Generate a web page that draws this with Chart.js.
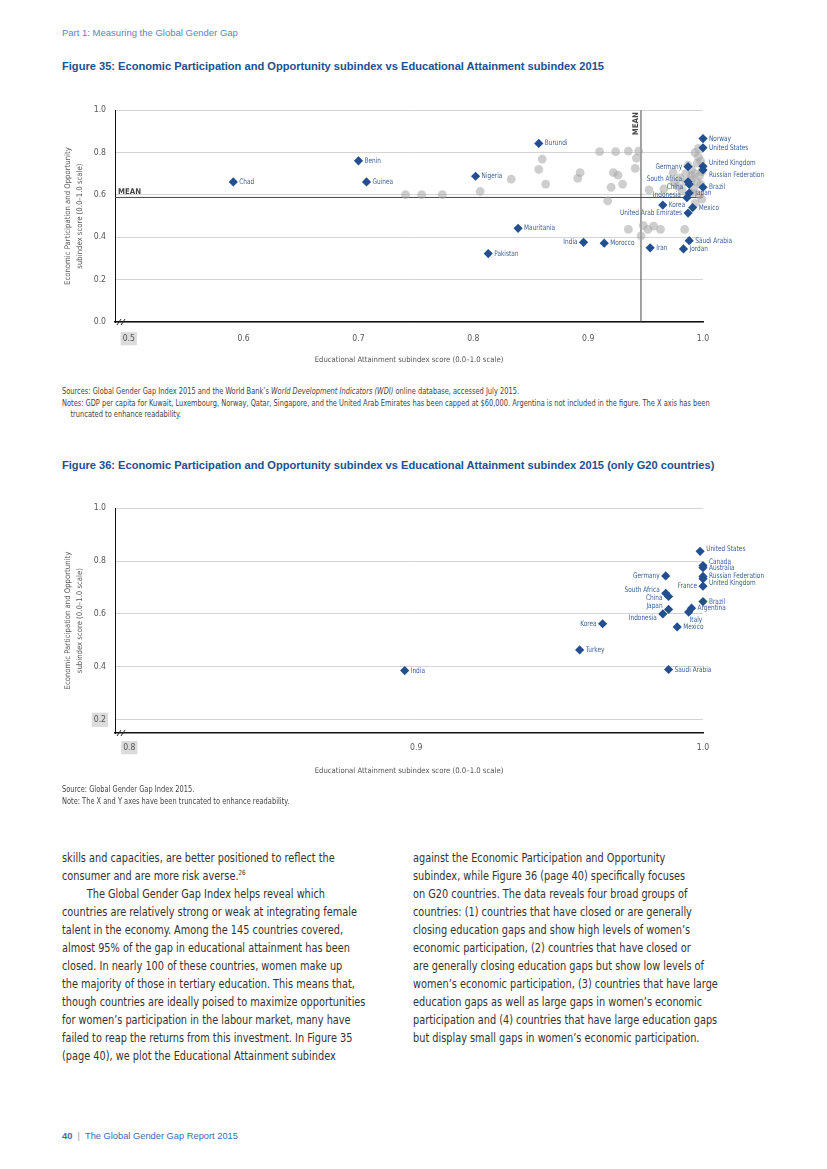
<!DOCTYPE html>
<html>
<head>
<meta charset="utf-8">
<script src="https://cdn.jsdelivr.net/npm/chart.js@4.4.1/dist/chart.umd.min.js"></script>
<style>
  body { margin: 0; background: #fff; }
  .page { position: relative; width: 827px; height: 1169px; overflow: hidden; }
  .abs { position: absolute; white-space: nowrap; }
  .narrow { font-family: "Liberation Sans Narrow", "DejaVu Sans Condensed", "Liberation Sans", sans-serif; }
  .runhead { left: 62px; top: 27px; font: 9.5px "Liberation Sans", sans-serif; color: #5a86bd; }
  .figtitle { left: 62px; font: bold 11.1px "Liberation Sans", sans-serif; color: #21508f; }
  .note { left: 62px; font-size: 8px; color: #444; line-height: 11.5px; transform: scaleX(0.925); transform-origin: 0 0; }
  .body { font-size: 12.4px; color: #333; line-height: 18px; transform: scaleX(0.875); transform-origin: 0 0; }
  .body sup { font-size: 7px; line-height: 0; }
  .foot { left: 62px; top: 1131px; font: 9.3px "Liberation Sans", sans-serif; color: #3d6bb0; }
  canvas { position: absolute; }
</style>
</head>
<body>
<div class="page">
  <div class="abs runhead">Part 1: Measuring the Global Gender Gap</div>
  <div class="abs figtitle" style="top:60px">Figure 35: Economic Participation and Opportunity subindex vs Educational Attainment subindex 2015</div>
  <canvas id="chart35" width="720" height="276" style="left:55px; top:96px"></canvas>
  <div class="abs note narrow" style="top:386px">
    Sources: Global Gender Gap Index 2015 and the World Bank’s <i>World Development Indicators (WDI)</i> online database, accessed July 2015.<br>
    Notes: GDP per capita for Kuwait, Luxembourg, Norway, Qatar, Singapore, and the United Arab Emirates has been capped at $60,000. Argentina is not included in the figure. The X axis has been<br>
    &nbsp;&nbsp;&nbsp;&nbsp;truncated to enhance readability.
  </div>

  <div class="abs figtitle" style="top:459px">Figure 36: Economic Participation and Opportunity subindex vs Educational Attainment subindex 2015 (only G20 countries)</div>
  <canvas id="chart36" width="720" height="292" style="left:55px; top:494px"></canvas>
  <div class="abs note narrow" style="top:784px">
    Source: Global Gender Gap Index 2015.<br>
    Note: The X and Y axes have been truncated to enhance readability.
  </div>

  <div class="abs body narrow" style="left:62px; top:849px">
    skills and capacities, are better positioned to reflect the<br>
    consumer and are more risk averse.<sup>26</sup><br>
    &nbsp;&nbsp;&nbsp;&nbsp;&nbsp;&nbsp;&nbsp;&nbsp;The Global Gender Gap Index helps reveal which<br>
    countries are relatively strong or weak at integrating female<br>
    talent in the economy. Among the 145 countries covered,<br>
    almost 95% of the gap in educational attainment has been<br>
    closed. In nearly 100 of these countries, women make up<br>
    the majority of those in tertiary education. This means that,<br>
    though countries are ideally poised to maximize opportunities<br>
    for women’s participation in the labour market, many have<br>
    failed to reap the returns from this investment. In Figure 35<br>
    (page 40), we plot the Educational Attainment subindex
  </div>
  <div class="abs body narrow" style="left:413px; top:849px">
    against the Economic Participation and Opportunity<br>
    subindex, while Figure 36 (page 40) specifically focuses<br>
    on G20 countries. The data reveals four broad groups of<br>
    countries: (1) countries that have closed or are generally<br>
    closing education gaps and show high levels of women’s<br>
    economic participation, (2) countries that have closed or<br>
    are generally closing education gaps but show low levels of<br>
    women’s economic participation, (3) countries that have large<br>
    education gaps as well as large gaps in women’s economic<br>
    participation and (4) countries that have large education gaps<br>
    but display small gaps in women’s economic participation.
  </div>

  <div class="abs foot"><b>40</b> <span style="color:#999">&nbsp;|&nbsp;</span> The Global Gender Gap Report 2015</div>
</div>

<script>
const NARROW = '"Liberation Sans Narrow", "DejaVu Sans Condensed", "Liberation Sans", sans-serif';
const BLUE = "#234f8f";
const GREY = "rgba(165,165,165,0.55)";

// ---------- Figure 35: all countries ----------
const names35 = ["Norway", "United States", "United Kingdom", "Russian Federation", "Brazil",
  "Germany", "South Africa", "China", "Japan", "Indonesia", "Mexico", "Korea",
  "United Arab Emirates", "Saudi Arabia", "Jordan", "Iran", "Morocco", "India",
  "Pakistan", "Mauritania", "Nigeria", "Burundi", "Benin", "Guinea", "Chad"];
const edu35 = [1.0, 1.0, 1.0, 1.0, 1.0,
  0.987, 0.987, 0.988, 0.988, 0.986, 0.991, 0.965,
  0.987, 0.988, 0.983, 0.954, 0.914, 0.896,
  0.813, 0.839, 0.802, 0.857, 0.700, 0.707, 0.591];
const eco35 = [0.866, 0.822, 0.735, 0.718, 0.636,
  0.733, 0.662, 0.650, 0.609, 0.587, 0.540, 0.552,
  0.514, 0.384, 0.345, 0.350, 0.372, 0.376,
  0.323, 0.442, 0.688, 0.843, 0.761, 0.661, 0.661];

// other countries (grey dots)
const otherEdu35 = [0.741, 0.755, 0.773, 0.806, 0.833, 0.860, 0.857, 0.863, 0.893, 0.891,
  0.910, 0.924, 0.935, 0.944, 0.942, 0.922, 0.926, 0.930, 0.920, 0.941,
  0.917, 0.953, 0.935, 0.948, 0.952, 0.957, 0.963, 0.946, 0.984, 0.966, 0.974,
  0.993, 0.996, 0.998, 0.995, 0.990, 0.993, 0.997, 0.985, 0.980, 0.990,
  0.995, 0.998, 0.992, 0.990, 0.997, 0.999, 0.993, 0.985, 0.978, 0.975,
  0.996, 0.999, 0.987, 0.990, 0.982];
const otherEco35 = [0.601, 0.601, 0.601, 0.616, 0.674, 0.769, 0.720, 0.651, 0.705, 0.678,
  0.804, 0.804, 0.807, 0.807, 0.774, 0.705, 0.693, 0.651, 0.636, 0.725,
  0.572, 0.624, 0.437, 0.455, 0.437, 0.453, 0.437, 0.407, 0.437, 0.628, 0.705,
  0.800, 0.780, 0.760, 0.750, 0.720, 0.700, 0.690, 0.700, 0.680, 0.670,
  0.660, 0.650, 0.630, 0.610, 0.600, 0.580, 0.560, 0.660, 0.640, 0.660,
  0.820, 0.710, 0.740, 0.690, 0.620];

const meanEdu35 = 0.946;
const meanEco35 = 0.588;
const xTicks35 = [0.5, 0.6, 0.7, 0.8, 0.9, 1.0];
const yTicks35 = [0.0, 0.2, 0.4, 0.6, 0.8, 1.0];

// ---------- Figure 36: G20 only ----------
const names36 = ["United States", "Canada", "Australia", "Russian Federation", "United Kingdom",
  "France", "Brazil", "Argentina", "Italy", "Mexico", "Germany", "South Africa", "China",
  "Japan", "Indonesia", "Korea", "Turkey", "Saudi Arabia", "India"];
const edu36 = [0.999, 1.0, 1.0, 1.0, 1.0, 1.0, 1.0, 0.996, 0.995, 0.991, 0.987, 0.987, 0.988,
  0.988, 0.986, 0.965, 0.957, 0.988, 0.896];
const eco36 = [0.837, 0.783, 0.775, 0.742, 0.733, 0.705, 0.647, 0.622, 0.607, 0.551, 0.744,
  0.678, 0.666, 0.617, 0.600, 0.563, 0.464, 0.390, 0.386];
const xTicks36 = [0.8, 0.9, 1.0];
const yTicks36 = [0.2, 0.4, 0.6, 0.8, 1.0];

const pts = (xs, ys) => xs.map((x, i) => ({ x: x, y: ys[i] }));

// country name labels next to the diamonds
const pointLabels = {
  id: "pointLabels",
  afterDatasetsDraw(chart, args, opts) {
    const ctx = chart.ctx;
    const meta = chart.getDatasetMeta(0);
    ctx.save();
    ctx.font = "7.6px " + NARROW;
    ctx.fillStyle = "#3a5f98";
    ctx.textBaseline = "middle";
    meta.data.forEach((pt, i) => {
      const name = opts.names[i];
      const dy = opts.dy[name] || 0;
      let x = pt.x + 6, y = pt.y + dy;
      ctx.textAlign = "left";
      if (opts.left.includes(name)) {
        ctx.textAlign = "right";
        x = pt.x - 6;
      } else if (opts.below.includes(name)) {
        x = pt.x + 1;
        y = pt.y + 8 + dy;
      }
      ctx.save();
      ctx.translate(x, y);
      ctx.scale(0.85, 1);
      ctx.fillText(name, 0, 0);
      ctx.restore();
    });
    ctx.restore();
  },
};

// axis break mark + MEAN captions
const extras = {
  id: "extras",
  afterDraw(chart, args, opts) {
    const { ctx, chartArea, scales } = chart;
    ctx.save();
    ctx.strokeStyle = "#222";
    ctx.lineWidth = 1;
    [0, 4].forEach((o) => {
      ctx.beginPath();
      ctx.moveTo(chartArea.left + 2 + o, chartArea.bottom + 3);
      ctx.lineTo(chartArea.left + 6 + o, chartArea.bottom - 3);
      ctx.stroke();
    });
    if (opts.meanX !== undefined) {
      ctx.fillStyle = "#444";
      ctx.font = "bold 7.8px " + NARROW;
      ctx.textBaseline = "bottom";
      ctx.textAlign = "left";
      ctx.fillText("MEAN", chartArea.left + 3, scales.y.getPixelForValue(opts.meanY) - 2);
      ctx.translate(scales.x.getPixelForValue(opts.meanX) - 1, chartArea.top + 2);
      ctx.rotate(-Math.PI / 2);
      ctx.textAlign = "right";
      ctx.fillText("MEAN", 0, 0);
    }
    ctx.restore();
  },
};

function axes(xMin, yMin, xTicks, yTicks, xTickPad, xTitlePad, xHeight) {
  return {
    x: {
      type: "linear", min: xMin, max: 1.0,
      afterBuildTicks: (s) => { s.ticks = xTicks.map((v) => ({ value: v })); },
      afterFit: (s) => { s.height = xHeight; },
      grid: { display: false },
      border: { display: true, color: "#111", width: 1.6 },
      ticks: {
        padding: xTickPad, color: "#555", font: { family: NARROW, size: 8.6 },
        callback: (v) => v.toFixed(1),
        showLabelBackdrop: (c) => c.index === 0,
        backdropColor: (c) => (c.index === 0 ? "#dcdcdc" : "rgba(0,0,0,0)"),
        backdropPadding: { top: 2, bottom: 1, left: 2, right: 2 },
        maxRotation: 0,
      },
      title: {
        display: true, text: "Educational Attainment subindex score (0.0–1.0 scale)",
        color: "#555", font: { family: NARROW, size: 7.7 }, padding: { bottom: xTitlePad },
      },
    },
    y: {
      type: "linear", min: yMin, max: 1.0,
      afterBuildTicks: (s) => { s.ticks = yTicks.map((v) => ({ value: v })); },
      afterFit: (s) => { s.width = 60; },
      grid: { color: "#d4d4d4", lineWidth: 1, drawTicks: false },
      border: { display: true, color: "#111", width: 1 },
      ticks: {
        padding: 9, color: "#555", font: { family: NARROW, size: 8.6 },
        callback: (v) => v.toFixed(1),
        showLabelBackdrop: (c) => yMin > 0 && c.index === 0,
        backdropColor: (c) => (yMin > 0 && c.index === 0 ? "#dcdcdc" : "rgba(0,0,0,0)"),
        backdropPadding: 2,
      },
      title: {
        display: true,
        text: ["Economic Participation and Opportunity", "subindex score (0.0–1.0 scale)"],
        color: "#555", font: { family: NARROW, size: 7.7, lineHeight: 1.55 }, padding: { top: 7 },
      },
    },
  };
}

const common = {
  responsive: false,
  animation: false,
  plugins: { legend: { display: false }, tooltip: { enabled: false } },
};

new Chart(document.getElementById("chart35"), {
  type: "scatter",
  data: {
    datasets: [
      {
        data: pts(edu35, eco35), pointStyle: "rectRot", pointRadius: 4.6,
        backgroundColor: BLUE, borderColor: BLUE, borderWidth: 0, clip: false,
      },
      {
        data: pts(otherEdu35, otherEco35), pointRadius: 4.4,
        backgroundColor: GREY, borderWidth: 0, clip: false,
      },
      {
        data: [{ x: 0.488, y: meanEco35 }, { x: 1.0, y: meanEco35 }], showLine: true,
        pointRadius: 0, borderColor: "#444", borderWidth: 1,
      },
      {
        data: [{ x: meanEdu35, y: 0 }, { x: meanEdu35, y: 1.0 }], showLine: true,
        pointRadius: 0, borderColor: "#444", borderWidth: 1,
      },
    ],
  },
  options: {
    ...common,
    layout: { padding: { top: 9, right: 72, left: 0, bottom: 0 } },
    scales: axes(0.488, 0, xTicks35, yTicks35, 4, 7, 50),
    plugins: {
      ...common.plugins,
      pointLabels: {
        names: names35,
        left: ["Germany", "South Africa", "China", "Indonesia", "United Arab Emirates", "India"],
        below: [],
        dy: { "United Kingdom": -3, "Russian Federation": 5, "South Africa": -3, "China": 3, "Indonesia": -3 },
      },
      extras: { meanX: meanEdu35, meanY: meanEco35 },
    },
  },
  plugins: [pointLabels, extras],
});

new Chart(document.getElementById("chart36"), {
  type: "scatter",
  data: {
    datasets: [
      {
        data: pts(edu36, eco36), pointStyle: "rectRot", pointRadius: 4.6,
        backgroundColor: BLUE, borderColor: BLUE, borderWidth: 0, clip: false,
      },
    ],
  },
  options: {
    ...common,
    layout: { padding: { top: 9, right: 72, left: 0, bottom: 0 } },
    scales: axes(0.795, 0.15, xTicks36, yTicks36, 2, 10, 53),
    plugins: {
      ...common.plugins,
      pointLabels: {
        names: names36,
        left: ["France", "Germany", "South Africa", "China", "Japan", "Indonesia", "Korea"],
        below: ["Italy"],
        dy: { "United States": -2, "Canada": -4, "United Kingdom": 4, "South Africa": -3, "China": 2, "Japan": -3, "Indonesia": 4 },
      },
      extras: {},
    },
  },
  plugins: [pointLabels, extras],
});
</script>
</body>
</html>
